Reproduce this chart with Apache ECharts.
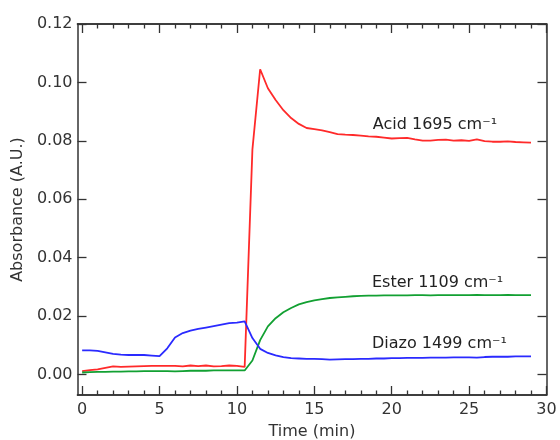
<!DOCTYPE html>
<html>
<head>
<meta charset="utf-8">
<script src="https://cdn.jsdelivr.net/npm/echarts@6/dist/echarts.min.js"></script>
<style>
  html, body { margin: 0; padding: 0; background: #fff; }
  #chart { width: 560px; height: 440px; }
</style>
</head>
<body>
<div id="chart"></div>
<script>
// time axis, minutes (sampled every 0.5 min)
const times = [
  0, 0.5, 1, 1.5, 2, 2.5, 3, 3.5, 4, 4.5, 5, 5.5, 6, 6.5, 7, 7.5, 8, 8.5, 9, 9.5,
  10, 10.5, 11, 11.5, 12, 12.5, 13, 13.5, 14, 14.5, 15, 15.5, 16, 16.5, 17, 17.5, 18, 18.5, 19, 19.5,
  20, 20.5, 21, 21.5, 22, 22.5, 23, 23.5, 24, 24.5, 25, 25.5, 26, 26.5, 27, 27.5, 28, 28.5, 29
];

const acid = [
  0.0012, 0.0015, 0.0018, 0.0023, 0.0028, 0.0026, 0.0027, 0.0028, 0.0029, 0.0030,
  0.0030, 0.0030, 0.0030, 0.0028, 0.0031, 0.0029, 0.0031, 0.0028, 0.0029, 0.0031,
  0.0030, 0.0026, 0.0770, 0.1045, 0.0980, 0.0940, 0.0905, 0.0878, 0.0858, 0.0844,
  0.0840, 0.0836, 0.0830, 0.0823, 0.0821, 0.0820, 0.0818, 0.0815, 0.0814, 0.0811,
  0.0808, 0.0809, 0.0810, 0.0805, 0.0801, 0.0801, 0.0803, 0.0804, 0.0801, 0.0802,
  0.0800, 0.0805, 0.0799, 0.0797, 0.0797, 0.0798, 0.0796, 0.0795, 0.0794
];

const ester = [
  0.0007, 0.0008, 0.0009, 0.0009, 0.0010, 0.0010, 0.0011, 0.0011, 0.0012, 0.0012,
  0.0012, 0.0012, 0.0011, 0.0012, 0.0013, 0.0013, 0.0013, 0.0014, 0.0014, 0.0014,
  0.0014, 0.0014, 0.0048, 0.0118, 0.0165, 0.0193, 0.0213, 0.0228, 0.0240, 0.0248,
  0.0254, 0.0258, 0.0262, 0.0264, 0.0266, 0.0268, 0.0269, 0.0270, 0.0270, 0.0271,
  0.0271, 0.0271, 0.0271, 0.0272, 0.0272, 0.0271, 0.0272, 0.0272, 0.0272, 0.0272,
  0.0272, 0.0273, 0.0272, 0.0272, 0.0272, 0.0273, 0.0272, 0.0272, 0.0272
];

const diazo = [
  0.0083, 0.0083, 0.0081, 0.0076, 0.0071, 0.0068, 0.0067, 0.0067, 0.0067, 0.0065,
  0.0063, 0.0090, 0.0127, 0.0142, 0.0150, 0.0156, 0.0161, 0.0166, 0.0171, 0.0176,
  0.0178, 0.0182, 0.0125, 0.0088, 0.0074, 0.0066, 0.0060, 0.0056, 0.0055, 0.0054,
  0.0054, 0.0053, 0.0051, 0.0052, 0.0053, 0.0053, 0.0054, 0.0054, 0.0055, 0.0055,
  0.0056, 0.0056, 0.0057, 0.0057, 0.0057, 0.0058, 0.0058, 0.0058, 0.0059, 0.0059,
  0.0059, 0.0058, 0.0060, 0.0061, 0.0061, 0.0061, 0.0062, 0.0062, 0.0062
];

const xTicks = [0, 5, 10, 15, 20, 25, 30];
const xMinorTicks = [1, 2, 3, 4, 6, 7, 8, 9, 11, 12, 13, 14, 16, 17, 18, 19,
  21, 22, 23, 24, 26, 27, 28, 29];
const yTicks = [0, 0.02, 0.04, 0.06, 0.08, 0.10, 0.12];

// label anchors [time, absorbance]
const labelAcid = [18.75, 0.0855];
const labelEster = [18.69, 0.0315];
const labelDiazo = [18.69, 0.0106];

const font = 'DejaVu Sans';
const axisColor = '#333';
const fontSize = 16;
const pair = (ys) => times.map((t, i) => [t, ys[i]]);

const gridBox = { left: 77.5, right: 13.5, top: 24, bottom: 45, outerBoundsMode: 'none' };

const xAxisBase = (gridIndex, position, ticks, len, labels) => ({
  type: 'value',
  gridIndex: gridIndex,
  position: position,
  min: -0.3,
  max: 30,
  splitLine: { show: false },
  axisLine: { onZero: false, lineStyle: { color: axisColor, width: 1.5 } },
  axisTick: { inside: true, length: len, customValues: ticks, lineStyle: { color: axisColor, width: 1.3 } },
  axisLabel: labels ? {
    customValues: xTicks, margin: 7, color: axisColor,
    fontFamily: font, fontSize: fontSize
  } : { show: false }
});

const yAxisBase = (position, labels) => ({
  type: 'value',
  position: position,
  min: -0.007,
  max: 0.12,
  splitLine: { show: false },
  axisLine: { onZero: false, lineStyle: { color: axisColor, width: 1.5 } },
  axisTick: { inside: true, length: 9, customValues: yTicks, lineStyle: { color: axisColor, width: 1.3 } },
  axisLabel: labels ? {
    customValues: yTicks, margin: 5, color: axisColor,
    fontFamily: font, fontSize: fontSize,
    formatter: (v) => v.toFixed(2)
  } : { show: false }
});

const noteLabel = (coord, text) => ({
  symbol: 'circle',
  symbolSize: 1,
  silent: true,
  itemStyle: { color: 'rgba(0,0,0,0)' },
  data: [{ coord: coord }],
  label: {
    show: true, position: 'right', distance: 0,
    formatter: text, color: '#222', fontFamily: font, fontSize: fontSize
  }
});

const chart = echarts.init(document.getElementById('chart'));

chart.setOption({
  animation: false,
  // second grid, same box, only carries the minor x ticks
  grid: [Object.assign({}, gridBox), Object.assign({}, gridBox)],
  xAxis: [
    Object.assign(xAxisBase(0, 'bottom', xTicks, 9, true), {
      name: 'Time (min)', nameLocation: 'middle', nameGap: 29,
      nameTextStyle: { color: axisColor, fontFamily: font, fontSize: fontSize }
    }),
    xAxisBase(0, 'top', xTicks, 9, false),
    xAxisBase(1, 'bottom', xMinorTicks, 4.5, false),
    xAxisBase(1, 'top', xMinorTicks, 4.5, false)
  ],
  yAxis: [
    Object.assign(yAxisBase('left', true), {
      gridIndex: 0,
      name: 'Absorbance (A.U.)', nameLocation: 'middle', nameGap: 50,
      nameTextStyle: { color: axisColor, fontFamily: font, fontSize: fontSize }
    }),
    Object.assign(yAxisBase('right', false), { gridIndex: 0 }),
    Object.assign(yAxisBase('left', false), { gridIndex: 1, show: false })
  ],
  series: [
    {
      name: 'Acid', type: 'line', xAxisIndex: 0, yAxisIndex: 0,
      data: pair(acid), showSymbol: false,
      lineStyle: { color: '#ff2a2a', width: 1.8 },
      markPoint: noteLabel(labelAcid, 'Acid 1695 cm⁻¹')
    },
    {
      name: 'Ester', type: 'line', xAxisIndex: 0, yAxisIndex: 0,
      data: pair(ester), showSymbol: false,
      lineStyle: { color: '#12a032', width: 1.8 },
      markPoint: noteLabel(labelEster, 'Ester 1109 cm⁻¹')
    },
    {
      name: 'Diazo', type: 'line', xAxisIndex: 0, yAxisIndex: 0,
      data: pair(diazo), showSymbol: false,
      lineStyle: { color: '#2a2aff', width: 1.8 },
      markPoint: noteLabel(labelDiazo, 'Diazo 1499 cm⁻¹')
    }
  ]
});
</script>
</body>
</html>
